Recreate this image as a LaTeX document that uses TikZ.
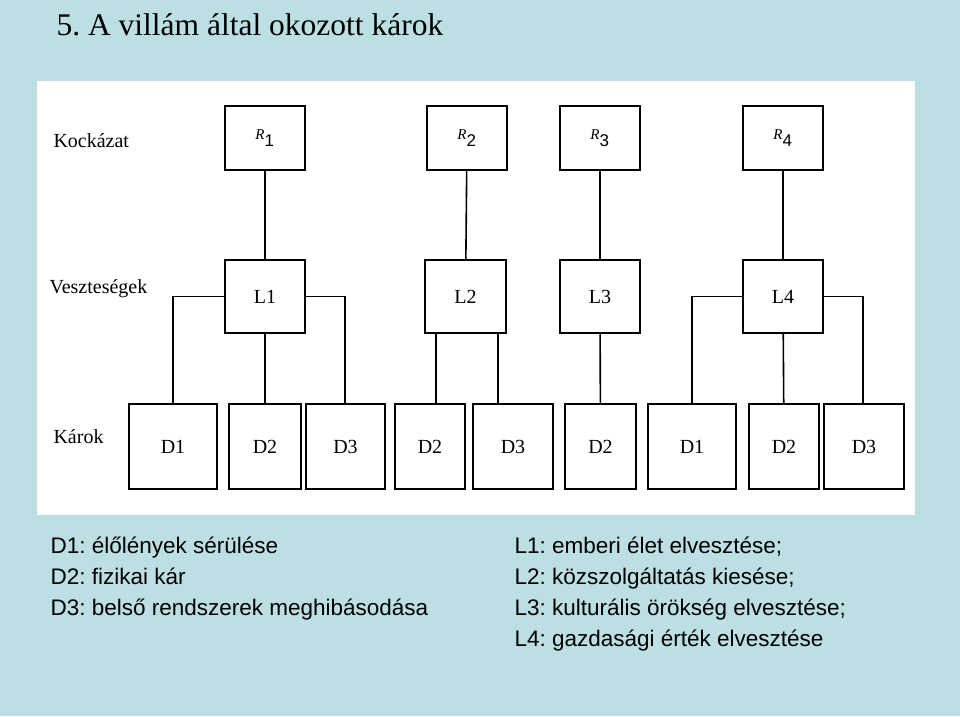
\documentclass[tikz,border=0pt]{standalone}
\usepackage{fontspec}
\setmainfont{Liberation Serif}
\newfontfamily\legfont{Liberation Sans}
\definecolor{bgteal}{HTML}{BBDFE3}
\frenchspacing
\begin{document}
\begin{tikzpicture}[x=1pt,y=-1pt,
  bx/.style={draw,line width=1.6pt,inner sep=0pt},
  ln/.style={line width=1.6pt},
  lab/.style={anchor=base west,font=\fontsize{20}{22}\selectfont},
  leg/.style={anchor=base west,font=\legfont\fontsize{22.5}{24}\selectfont}]
\fill[bgteal] (0,0) rectangle (960,716);
\useasboundingbox (0,0) rectangle (960,716);
\fill[white] (37,81) rectangle (915,515);
\node[anchor=base west,font=\fontsize{31.5}{34}\selectfont] (title) at (53,35) {5. A villám által okozott károk};
\node[lab] (k) at (50,147) {Kockázat};
\node[lab] (v) at (46,293) {Veszteségek};
\node[lab] (ka) at (50,443) {Károk};
% R boxes
\foreach \n/\a/\b/\t in {R1/225/305/1,R2/427/507/2,R3/560/640/3,R4/743/823/4}{
  \node[bx,minimum width=\b-\a,minimum height=64] (\n) at ({(\a+\b)/2},138) {\fontsize{15}{15}\selectfont\textit{R}\textsubscript{\fontsize{17}{17}\selectfont\legfont\t}};}
\foreach \n/\a/\b/\t in {L1/225/305/L1,L2/425/506/L2,L3/560/640/L3,L4/743/823/L4}{
  \node[bx,minimum width=\b-\a,minimum height=73] (\n) at ({(\a+\b)/2},296.5) {\fontsize{20}{20}\selectfont \t};}
\foreach \n/\a/\b/\t in {da/129/217/D1,db/229/301/D2,dc/306/385/D3,dd/395/465/D2,de/473/553/D3,df/565/636/D2,dg/648/736/D1,dh/749/819/D2,di/824/904/D3}{
  \node[bx,minimum width=\b-\a,minimum height=85] (\n) at ({(\a+\b)/2},446.5) {\fontsize{20}{20}\selectfont \t};}
\foreach \i in {1,2,3,4}{\draw[ln] (R\i) -- (L\i);}
\draw[ln] (L1.west) -| (da.north -| 173,0);
\draw[ln] (L1) -- (db);
\draw[ln] (L1.east) -| (dc.north -| 345,0);
\draw[ln] (L2.south -| 436,0) -- (dd.north -| 436,0);
\draw[ln] (L2.south -| 498,0) -- (de.north -| 498,0);
\draw[ln] (L3) -- (df);
\draw[ln] (L4.west) -| (dg.north -| 692,0);
\draw[ln] (L4) -- (dh);
\draw[ln] (L4.east) -| (di.north -| 863,0);
% legend
\node[leg] (l1) at (47,553) {D1: élőlények sérülése};
\node[leg] (l2) at (47,584) {D2: fizikai kár};
\node[leg] (l3) at (47,615) {D3: belső rendszerek meghibásodása};
\node[leg] (m1) at (511,553) {L1: emberi élet elvesztése;};
\node[leg] (m2) at (511,584) {L2: közszolgáltatás kiesése;};
\node[leg] (m3) at (511,615) {L3: kulturális örökség elvesztése;};
\node[leg] (m4) at (511,646) {L4: gazdasági érték elvesztése};
\end{tikzpicture}
\end{document}
